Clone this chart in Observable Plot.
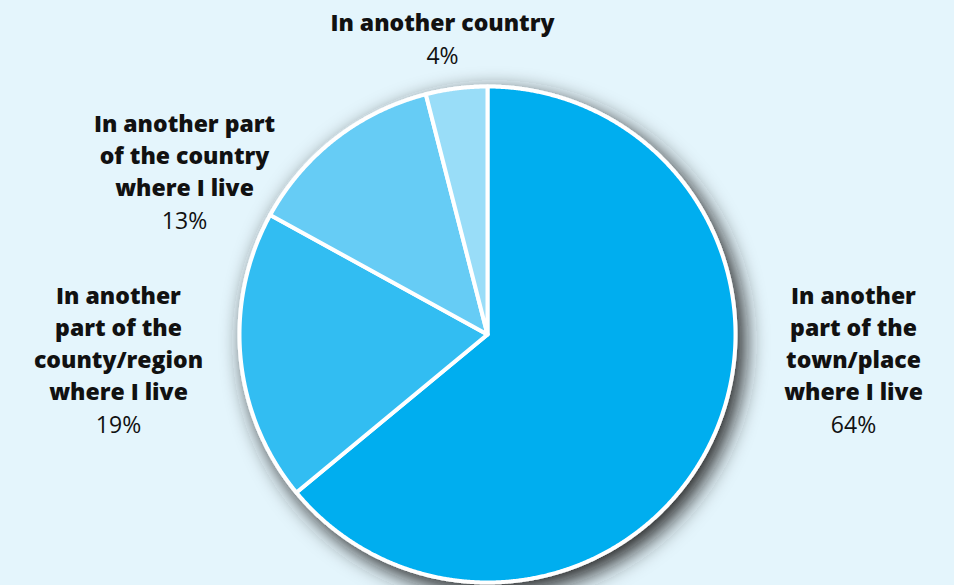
<!DOCTYPE html>
<html><head><meta charset="utf-8">
<script src="https://cdn.jsdelivr.net/npm/d3@7"></script>
<script src="https://cdn.jsdelivr.net/npm/@observablehq/plot@0.6"></script>
<style>
html,body{margin:0;padding:0;background:#E4F5FC;}
#chart svg{display:block;}
</style></head><body><div id="chart"></div>
<script>
// ---- data ----
const categories = [
  "In another\npart of the\ntown/place\nwhere I live",
  "In another\npart of the\ncounty/region\nwhere I live",
  "In another part\nof the country\nwhere I live",
  "In another country"
];
const shares = [64, 19, 13, 4];
const percentLabels = ["64%", "19%", "13%", "4%"];
const sliceColors = ["#00AEEF", "#33BDF2", "#66CCF5", "#99DDF8"];

// ---- layout (pixels) ----
const W = 954, H = 585;
const cx = 487, cy = 334, R = 248;
const labelX = [853, 118, 184, 442];
const labelBaseY = [399, 399, 195, 30]; // baseline of last bold line
const pctGap = 33;

const table = categories.map((c, i) => ({category: c, share: shares[i], pct: percentLabels[i], lx: labelX[i], ly: labelBaseY[i]}));

const arcs = d3.pie().sort(null).value(d => d.share)(table);
const features = arcs.map(a => {
  const pts = [[cx, cy]];
  const steps = Math.max(8, Math.ceil((a.endAngle - a.startAngle) / (Math.PI / 720)));
  for (let k = 0; k <= steps; k++) {
    const t = a.startAngle + (a.endAngle - a.startAngle) * k / steps;
    pts.push([cx + R * Math.sin(t), cy - R * Math.cos(t)]);
  }
  pts.push([cx, cy]);
  return {type: "Feature", properties: {category: a.data.category}, geometry: {type: "Polygon", coordinates: [pts]}};
});

const chart = Plot.plot({
  width: W,
  height: H,
  margin: 0,
  projection: {type: "identity"},
  color: {domain: categories, range: sliceColors},
  style: {background: "#E4F5FC", fontFamily: "'Open Sans', sans-serif", overflow: "visible"},
  marks: [
    Plot.geo(features, {fill: d => d.properties.category, stroke: "white", strokeWidth: 4, strokeLinejoin: "round"}),
    Plot.text(table, {x: "lx", y: "ly", text: "category", lineAnchor: "bottom", lineHeight: 1.39, fontSize: 23, fontWeight: 800, fill: "#111", textAnchor: "middle"}),
    Plot.text(table, {x: "lx", y: d => d.ly + pctGap, text: "pct", lineAnchor: "bottom", fontSize: 23, fill: "#111", textAnchor: "middle"})
  ]
});

const svg = d3.select(chart);
const defs = svg.insert("defs", ":first-child");
const f = defs.append("filter").attr("id", "pieShadow").attr("x", "-20%").attr("y", "-20%").attr("width", "140%").attr("height", "140%");
f.append("feGaussianBlur").attr("in", "SourceAlpha").attr("stdDeviation", 11).attr("result", "blur");
f.append("feOffset").attr("in", "blur").attr("dx", 7).attr("dy", 8).attr("result", "off");
f.append("feFlood").attr("flood-color", "#222").attr("flood-opacity", 1).attr("result", "col");
f.append("feComposite").attr("in", "col").attr("in2", "off").attr("operator", "in").attr("result", "shadow");
const m = f.append("feMerge");
m.append("feMergeNode").attr("in", "shadow");
m.append("feMergeNode").attr("in", "SourceGraphic");
svg.select('g[aria-label="geo"]').attr("filter", "url(#pieShadow)");

document.getElementById("chart").appendChild(chart);
</script>
</body></html>
